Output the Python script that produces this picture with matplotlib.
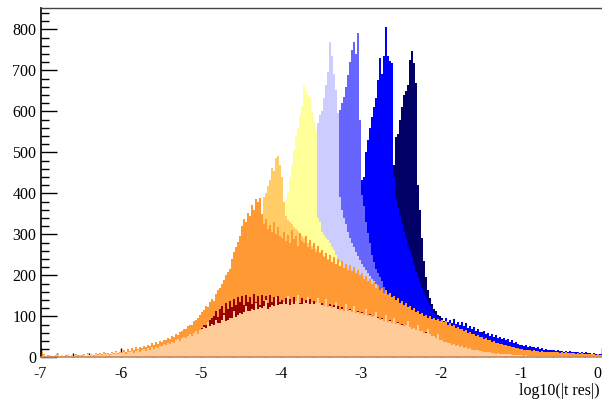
import numpy as np
import matplotlib
matplotlib.use('Agg')
import matplotlib.pyplot as plt
from matplotlib.ticker import MultipleLocator

# ---------------- data (bin width 0.025 in log10(|t res|)) ----------------
BIN_WIDTH = 0.025

peach_start = -7.0
peach_counts = [
    3,6,2,4,5,3,1,4,6,2,5,3,4,7,2,5,3,6,4,5,
    4,6,3,8,5,7,4,9,6,8,5,10,7,9,6,11,8,12,9,11,
    10,13,9,14,12,16,11,15,18,14,17,20,16,22,19,24,21,26,23,28,
    28,32,30,36,33,38,35,41,44,40,47,50,46,53,56,52,60,63,58,67,
    70,74,72,85,76,81,79,92,84,83,90,102,88,92,97,95,112,98,104,108,
    106,111,125,114,112,117,115,132,117,122,120,124,140,118,123,128,125,146,127,131,
    129,134,131,150,128,136,130,138,152,130,131,137,132,148,130,136,131,133,145,132,
    128,124,142,122,125,120,123,136,118,116,119,114,130,112,115,110,126,108,111,106,
    108,104,118,101,103,98,100,110,97,92,94,89,104,86,88,84,96,81,83,79,
    80,76,78,88,74,70,71,66,80,63,64,59,60,70,56,51,52,47,58,42,
    41,37,38,34,35,31,32,28,29,26,27,23,24,21,22,19,19,17,17,15,
    15,13,14,12,12,10,11,9,10,8,9,7,8,7,7,6,6,5,6,5,
    5,4,5,4,4,3,4,3,3,3,3,2,3,2,2,2,2,2,1,2,
    2,1,2,1,1,1,2,1,1,1,1,1,0,1,1,0,1,1,0,1,
]

darkred_start = -5.0
darkred_counts = [
    72,78,80,84,90,96,100,112,98,118,125,108,132,118,138,122,142,128,146,134,
    150,128,152,136,148,130,154,134,149,128,152,138,150,132,153,136,147,130,150,136,
    140,130,144,128,141,134,146,130,140,132,144,128,139,131,143,129,138,130,141,127,
    132,122,131,120,129,118,127,117,126,114,123,113,121,110,119,108,116,106,114,104,
    111,100,108,98,105,95,100,93,99,90,97,87,93,84,90,82,88,79,85,77,
    81,74,79,71,75,68,72,64,69,61,65,57,61,54,57,50,53,46,49,42,
]

orange_start = -7.0
orange_counts = [
    14,7,3,5,6,4,2,5,8,3,6,4,5,9,3,6,4,8,5,6,
    5,8,4,10,6,9,5,11,8,10,7,13,9,11,8,14,10,15,11,14,
    14,18,13,20,16,22,17,24,21,26,23,28,25,31,27,34,30,37,33,40,
    38,43,41,47,45,52,49,56,54,61,63,70,68,76,80,78,88,92,96,104,
    110,116,124,122,135,142,138,155,163,170,180,188,200,208,215,240,258,270,282,295,
    320,338,330,352,345,372,360,385,378,388,350,325,338,312,322,305,330,300,318,296,
    292,305,284,298,278,310,288,295,272,302,284,278,296,270,285,265,278,258,272,255,
    262,245,255,238,250,232,244,228,240,222,235,218,228,214,225,210,220,205,214,200,
    205,192,198,185,190,178,184,170,176,165,170,158,163,152,158,146,150,140,144,133,
    138,128,132,122,126,116,120,110,114,106,108,100,104,97,100,94,97,91,94,88,
    91,85,88,80,83,76,79,72,74,68,70,64,66,60,62,57,58,53,54,49,
    50,45,46,42,43,38,39,35,36,32,33,29,30,27,27,24,25,22,23,20,
    21,18,19,17,18,16,17,15,16,14,15,13,14,13,14,12,13,12,13,11,
    12,11,12,10,11,10,11,9,10,9,10,8,9,8,8,7,8,6,7,5,
]

lightorange_start = -4.6
lightorange_counts = [
    180,195,205,220,235,250,262,275,288,300,310,320,330,338,345,392,400,418,432,462,
    455,485,492,470,440,380,345,335,330,325,318,312,308,300,296,290,285,280,276,272,
    268,264,260,256,252,248,244,240,236,232,228,224,
]

yellow_start = -4.1
yellow_counts = [
    250,270,290,310,330,360,385,405,440,470,505,540,560,590,612,662,650,640,632,600,
    575,552,340,330,305,298,292,285,279,270,262,250,240,232,225,218,
]

lavender_start = -3.8
lavender_counts = [
    200,230,260,290,320,360,400,440,480,530,572,590,600,632,665,697,770,735,690,652,
    595,390,360,340,325,305,292,278,268,258,248,238,228,220,212,205,198,192,186,180,
]

medblue_start = -3.5
medblue_counts = [
    300,340,380,420,460,500,540,570,585,603,620,636,660,689,720,750,770,741,792,580,
    395,370,330,303,280,250,232,215,205,195,185,172,165,155,145,140,
]

blue_start = -3.1
blue_counts = [
    250,290,330,370,432,440,501,530,560,587,610,632,676,729,690,735,806,735,722,718,
    440,384,365,345,325,305,290,275,260,245,225,208,195,182,168,158,145,135,124,116,
    108,102,98,94,
    92,88,95,86,90,84,92,82,87,80,85,76,80,72,77,68,73,64,68,62,
    60,64,56,60,53,57,50,54,47,50,44,47,41,44,38,41,36,38,33,31,
    30,28,31,26,28,24,26,22,24,21,22,19,21,18,19,17,18,16,17,15,
    15,14,16,13,15,12,14,12,13,11,13,10,12,10,11,9,10,8,9,8,
]

navy_start = -2.8
navy_counts = [
    300,330,360,390,410,420,430,435,470,538,545,580,611,640,650,665,725,748,717,668,
    420,360,290,235,197,165,145,130,118,112,104,100,95,86,93,84,88,80,94,78,
    84,75,82,72,83,68,74,64,70,60,66,58,62,54,57,50,
]

x_ticks = [-7, -6, -5, -4, -3, -2, -1, 0]
y_ticks = [0, 100, 200, 300, 400, 500, 600, 700, 800]
x_label = "log10(|t res|)"

# back to front
layers = [
    (navy_start, navy_counts, '#000066'),
    (blue_start, blue_counts, '#0000ff'),
    (medblue_start, medblue_counts, '#6666ff'),
    (lavender_start, lavender_counts, '#ccccff'),
    (yellow_start, yellow_counts, '#ffff99'),
    (lightorange_start, lightorange_counts, '#ffcc66'),
    (orange_start, orange_counts, '#ff9933'),
    (darkred_start, darkred_counts, '#990000'),
    (peach_start, peach_counts, '#ffcc99'),
]

# ---------------- plot ----------------
plt.rcParams['font.family'] = ['Liberation Serif', 'DejaVu Serif']
plt.rcParams['axes.unicode_minus'] = False

W, H = 602, 403
fig = plt.figure(figsize=(W / 100, H / 100), dpi=100)
ax = fig.add_axes([40.5 / W, (H - 357.3) / H, (601.5 - 40.5) / W, (357.3 - 8) / H])

for start, counts, color in layers:
    counts = np.asarray(counts, dtype=float)
    edges = start + BIN_WIDTH * np.arange(counts.size + 1)
    ax.stairs(counts, edges, fill=True, color=color, linewidth=0, antialiased=False)

ax.set_xlim(-7, 0)
ax.set_ylim(0, 852)
ax.set_axisbelow(True)
ax.set_xticks(x_ticks)
ax.set_yticks(y_ticks)
ax.xaxis.set_minor_locator(MultipleLocator(0.2))
ax.yaxis.set_minor_locator(MultipleLocator(20))

ax.tick_params(axis='y', which='major', direction='in', length=11.5, width=1.0,
               labelsize=11.5, pad=3, color='black')
ax.tick_params(axis='y', which='minor', direction='in', length=5.8, width=1.0, color='black')
ax.tick_params(axis='x', which='major', direction='in', length=6.5, width=1.0,
               labelsize=11.5, pad=6, color='black')
ax.tick_params(axis='x', which='minor', direction='in', length=3.2, width=1.0, color='black')

# keep the right-most "0" label inside the canvas
xlabels = ax.get_xticklabels()
xlabels[-1].set_horizontalalignment('right')

ax.spines['right'].set_visible(False)
ax.spines['top'].set_color('#444444')
ax.spines['top'].set_linewidth(1.0)
ax.spines['left'].set_color('black')
ax.spines['left'].set_linewidth(1.2)
ax.spines['bottom'].set_color('#c8875a')
ax.spines['bottom'].set_linewidth(1.2)

fig.text(600 / W, 1 - 391 / H, x_label, ha='right', va='center', fontsize=11.5)

fig.savefig('out.png', dpi=100)
